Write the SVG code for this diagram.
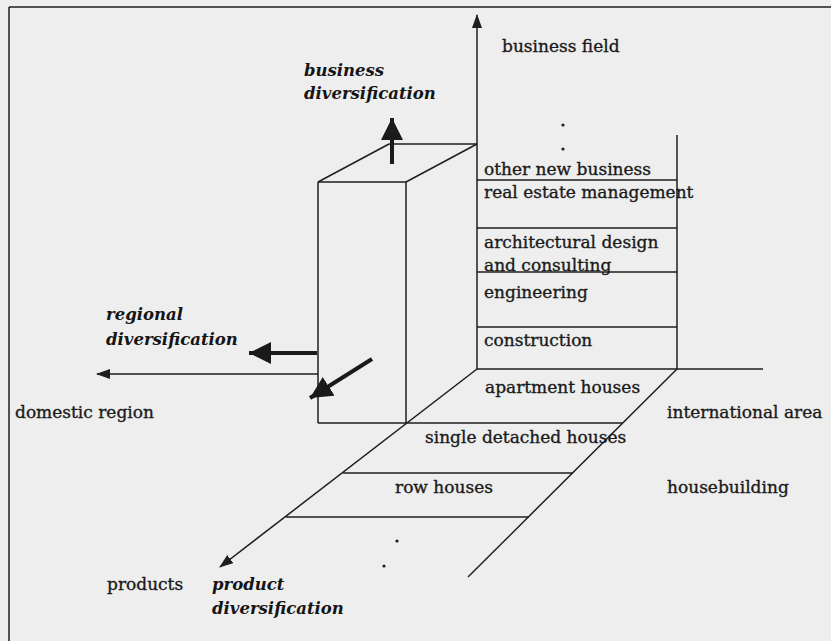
<svg xmlns="http://www.w3.org/2000/svg" width="831" height="641" viewBox="0 0 831 641">
  <style>
    .ln { stroke: #1e1e1e; stroke-width: 1.5; fill: none; }
    .thick { stroke: #1a1a1a; stroke-width: 4; fill: none; }
    .lbl { font-family: "DejaVu Serif", "Liberation Serif", serif; font-size: 17px; fill: #1a1a1a; stroke: #1a1a1a; stroke-width: 0.35; }
    .em { font-family: "DejaVu Serif", "Liberation Serif", serif; font-size: 16.5px; font-weight: bold; font-style: italic; fill: #151515; }
    .dot { fill: #1e1e1e; }
  </style>
  <defs>
    <marker id="axisHead" markerUnits="userSpaceOnUse" markerWidth="14" markerHeight="12" refX="13" refY="5" orient="auto">
      <path d="M0,0 L14,5 L0,10 z" fill="#1e1e1e"/>
    </marker>
    <marker id="bigHead" markerUnits="userSpaceOnUse" markerWidth="24" markerHeight="24" refX="22" refY="11" orient="auto">
      <path d="M0,0 L22,11 L0,22 z" fill="#1a1a1a"/>
    </marker>
  </defs>

  <rect x="0" y="0" width="831" height="641" fill="#eeeeee"/>

  <!-- page frame: top and left rules -->
  <g id="frame">
    <line class="ln" x1="9" y1="7" x2="831" y2="7" stroke-width="2"/>
    <line class="ln" x1="9" y1="7" x2="9" y2="641" stroke-width="2"/>
  </g>

  <!-- axes, the block and the grid lines -->
  <g id="connectors">
    <!-- business field axis -->
    <line class="ln" x1="477" y1="369" x2="477" y2="15" marker-end="url(#axisHead)"/>
    <!-- region axis -->
    <line class="ln" x1="318" y1="374" x2="97" y2="374" marker-end="url(#axisHead)"/>
    <line class="ln" x1="477" y1="369" x2="763" y2="369"/>
    <!-- products axis -->
    <line class="ln" x1="477" y1="369" x2="220" y2="567" marker-end="url(#axisHead)"/>
    <!-- outer edge of the housebuilding floor -->
    <line class="ln" x1="677" y1="369" x2="468" y2="577"/>

    <!-- business field column -->
    <line class="ln" x1="677" y1="135" x2="677" y2="369"/>
    <line class="ln" x1="477" y1="180" x2="677" y2="180"/>
    <line class="ln" x1="477" y1="228" x2="677" y2="228"/>
    <line class="ln" x1="477" y1="272" x2="677" y2="272"/>
    <line class="ln" x1="477" y1="327" x2="677" y2="327"/>

    <!-- product rows -->
    <line class="ln" x1="318" y1="423" x2="623" y2="423"/>
    <line class="ln" x1="343" y1="473" x2="573" y2="473"/>
    <line class="ln" x1="286" y1="517" x2="529" y2="517"/>

    <!-- the block -->
    <line class="ln" x1="318" y1="182" x2="318" y2="423"/>
    <line class="ln" x1="406" y1="182" x2="406" y2="423"/>
    <line class="ln" x1="318" y1="182" x2="406" y2="182"/>
    <line class="ln" x1="318" y1="182" x2="389" y2="144"/>
    <line class="ln" x1="406" y1="182" x2="477" y2="144"/>
    <line class="ln" x1="389" y1="144" x2="477" y2="144"/>

    <!-- diversification arrows -->
    <line class="thick" x1="392" y1="164" x2="392" y2="118" marker-end="url(#bigHead)"/>
    <line class="thick" x1="317" y1="353" x2="249" y2="353" marker-end="url(#bigHead)"/>
    <line class="thick" x1="372" y1="359" x2="310" y2="398" marker-end="url(#bigHead)"/>
  </g>

  <!-- continuation dots -->
  <g id="dots">
    <circle class="dot" cx="563" cy="125" r="1.6"/>
    <circle class="dot" cx="563" cy="149" r="1.6"/>
    <circle class="dot" cx="397" cy="541" r="1.6"/>
    <circle class="dot" cx="384" cy="566" r="1.6"/>
  </g>

  <!-- axis labels -->
  <g id="axis-labels">
    <text class="lbl" x="502" y="52">business field</text>
    <text class="lbl" x="15" y="418">domestic region</text>
    <text class="lbl" x="667" y="418">international area</text>
    <text class="lbl" x="667" y="493">housebuilding</text>
    <text class="lbl" x="107" y="590">products</text>
  </g>

  <!-- business fields -->
  <g id="business-fields">
    <text class="lbl" x="484" y="175">other new business</text>
    <text class="lbl" x="484" y="198">real estate management</text>
    <text class="lbl" x="484" y="248">architectural design</text>
    <text class="lbl" x="484" y="271">and consulting</text>
    <text class="lbl" x="484" y="298">engineering</text>
    <text class="lbl" x="484" y="346">construction</text>
  </g>

  <!-- product rows -->
  <g id="products">
    <text class="lbl" x="485" y="393">apartment houses</text>
    <text class="lbl" x="425" y="443">single detached houses</text>
    <text class="lbl" x="395" y="493">row houses</text>
  </g>

  <!-- diversification labels -->
  <g id="business-diversification">
    <text class="em" x="304" y="76">business</text>
    <text class="em" x="304" y="99">diversification</text>
  </g>
  <g id="regional-diversification">
    <text class="em" x="106" y="320">regional</text>
    <text class="em" x="106" y="345">diversification</text>
  </g>
  <g id="product-diversification">
    <text class="em" x="212" y="590">product</text>
    <text class="em" x="212" y="614">diversification</text>
  </g>
</svg>
